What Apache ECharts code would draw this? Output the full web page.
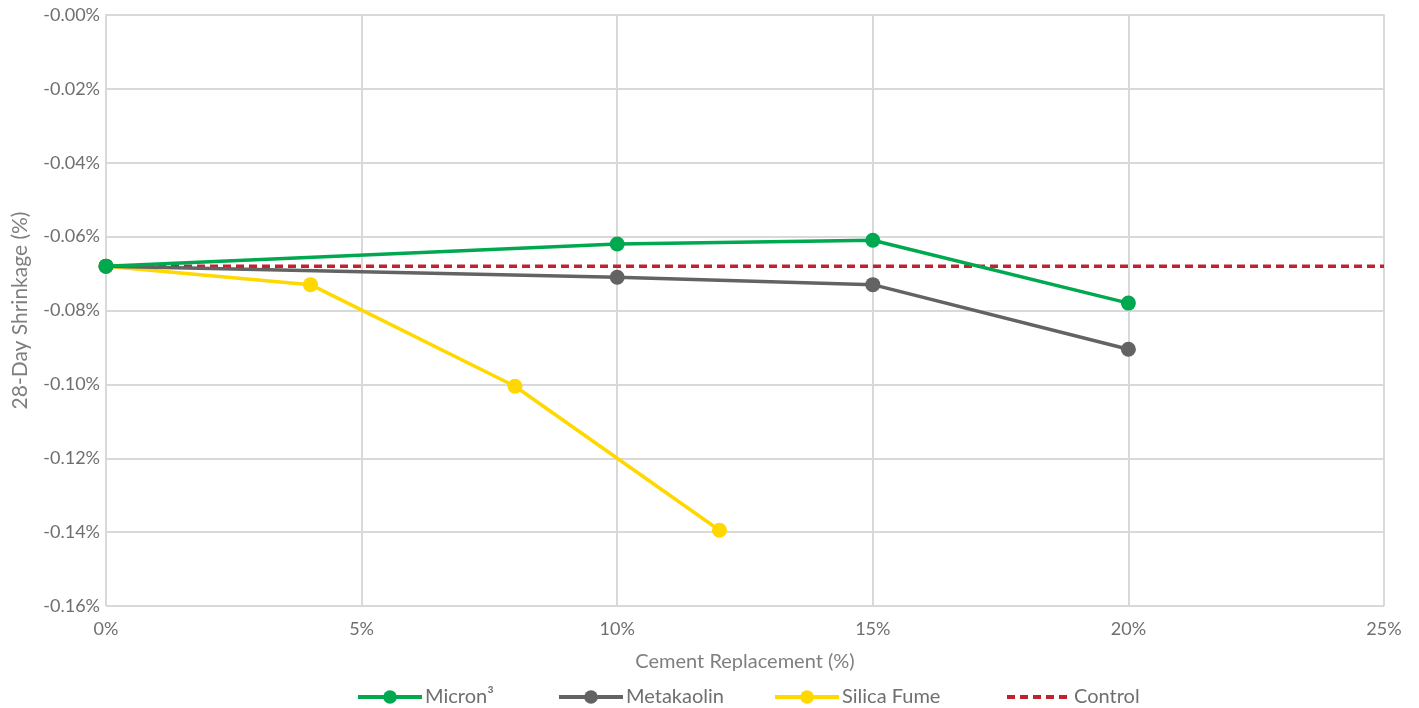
<!DOCTYPE html>
<html><head><meta charset="utf-8">
<script src="https://cdn.jsdelivr.net/npm/echarts@6/dist/echarts.min.js"></script>
<style>html,body{margin:0;padding:0;background:#fff}#c{width:1419px;height:708px}</style>
</head><body><div id="c"></div>
<script>
const micronX = [0, 10, 15, 20];
const micronY = [-0.068, -0.062, -0.061, -0.078];
const metaX = [0, 10, 15, 20];
const metaY = [-0.068, -0.071, -0.073, -0.0905];
const silicaX = [0, 4, 8, 12];
const silicaY = [-0.068, -0.073, -0.1005, -0.1395];
const controlX = [0, 25];
const controlY = [-0.068, -0.068];
const seriesNames = ['Micron³', 'Metakaolin', 'Silica Fume', 'Control'];
const pair = (xs, ys) => xs.map((x, i) => [x, ys[i]]);

const FONT = 'Lato, "Open Sans", sans-serif';
const chart = echarts.init(document.getElementById('c'));
const lineSeries = (name, xs, ys, color, dashed, z) => ({
  name, type: 'line', data: pair(xs, ys), z,
  symbol: dashed ? 'none' : 'circle', symbolSize: 15,
  lineStyle: { color, width: 3.5, type: dashed ? [8, 5] : 'solid' },
  itemStyle: { color },
  emphasis: { disabled: true }, animation: false
});
const legendLefts = [351, 552, 768, 1000];
const legends = seriesNames.map((n, i) => ({
  top: 682, left: legendLefts[i], itemWidth: 64, itemHeight: 17, itemGap: 0,
  textStyle: { color: '#6f6f6f', fontSize: 20, fontFamily: FONT, padding: [0, 0, 0, -2] },
  lineStyle: { width: 4 },
  data: [i === 3 ? { name: n, itemStyle: { opacity: 0 } } : n]
}));
chart.setOption({
  backgroundColor: '#fff',
  textStyle: { fontFamily: FONT },
  grid: { left: 106, right: 35, top: 15, bottom: 102, outerBoundsMode: 'none', containLabel: false },
  xAxis: {
    type: 'value', min: 0, max: 25, interval: 5,
    name: 'Cement Replacement (%)', nameLocation: 'middle', nameGap: 46,
    nameTextStyle: { color: '#7f7f7f', fontSize: 20, fontFamily: FONT },
    axisLine: { lineStyle: { color: '#d9d9d9', width: 2 } },
    axisTick: { show: false },
    axisLabel: { color: '#6f6f6f', fontSize: 18, margin: 14, formatter: v => v + '%' },
    splitLine: { show: true, lineStyle: { color: '#d9d9d9', width: 2 } }
  },
  yAxis: {
    type: 'value', min: -0.16, max: 0, interval: 0.02,
    name: '28-Day Shrinkage (%)', nameLocation: 'middle', nameGap: 75,
    nameTextStyle: { color: '#7f7f7f', fontSize: 21, fontFamily: FONT },
    axisLine: { show: false },
    axisTick: { show: false },
    axisLabel: { color: '#6f6f6f', fontSize: 18, margin: 6, formatter: v => '-' + Math.abs(v).toFixed(2) + '%' },
    splitLine: { show: true, lineStyle: { color: '#d9d9d9', width: 2 } }
  },
  legend: legends,
  series: [
    lineSeries(seriesNames[0], micronX, micronY, '#00a84f', false, 5),
    lineSeries(seriesNames[1], metaX, metaY, '#636363', false, 4),
    lineSeries(seriesNames[2], silicaX, silicaY, '#ffd800', false, 3),
    lineSeries(seriesNames[3], controlX, controlY, '#c0222f', true, 2)
  ]
});
</script></body></html>
